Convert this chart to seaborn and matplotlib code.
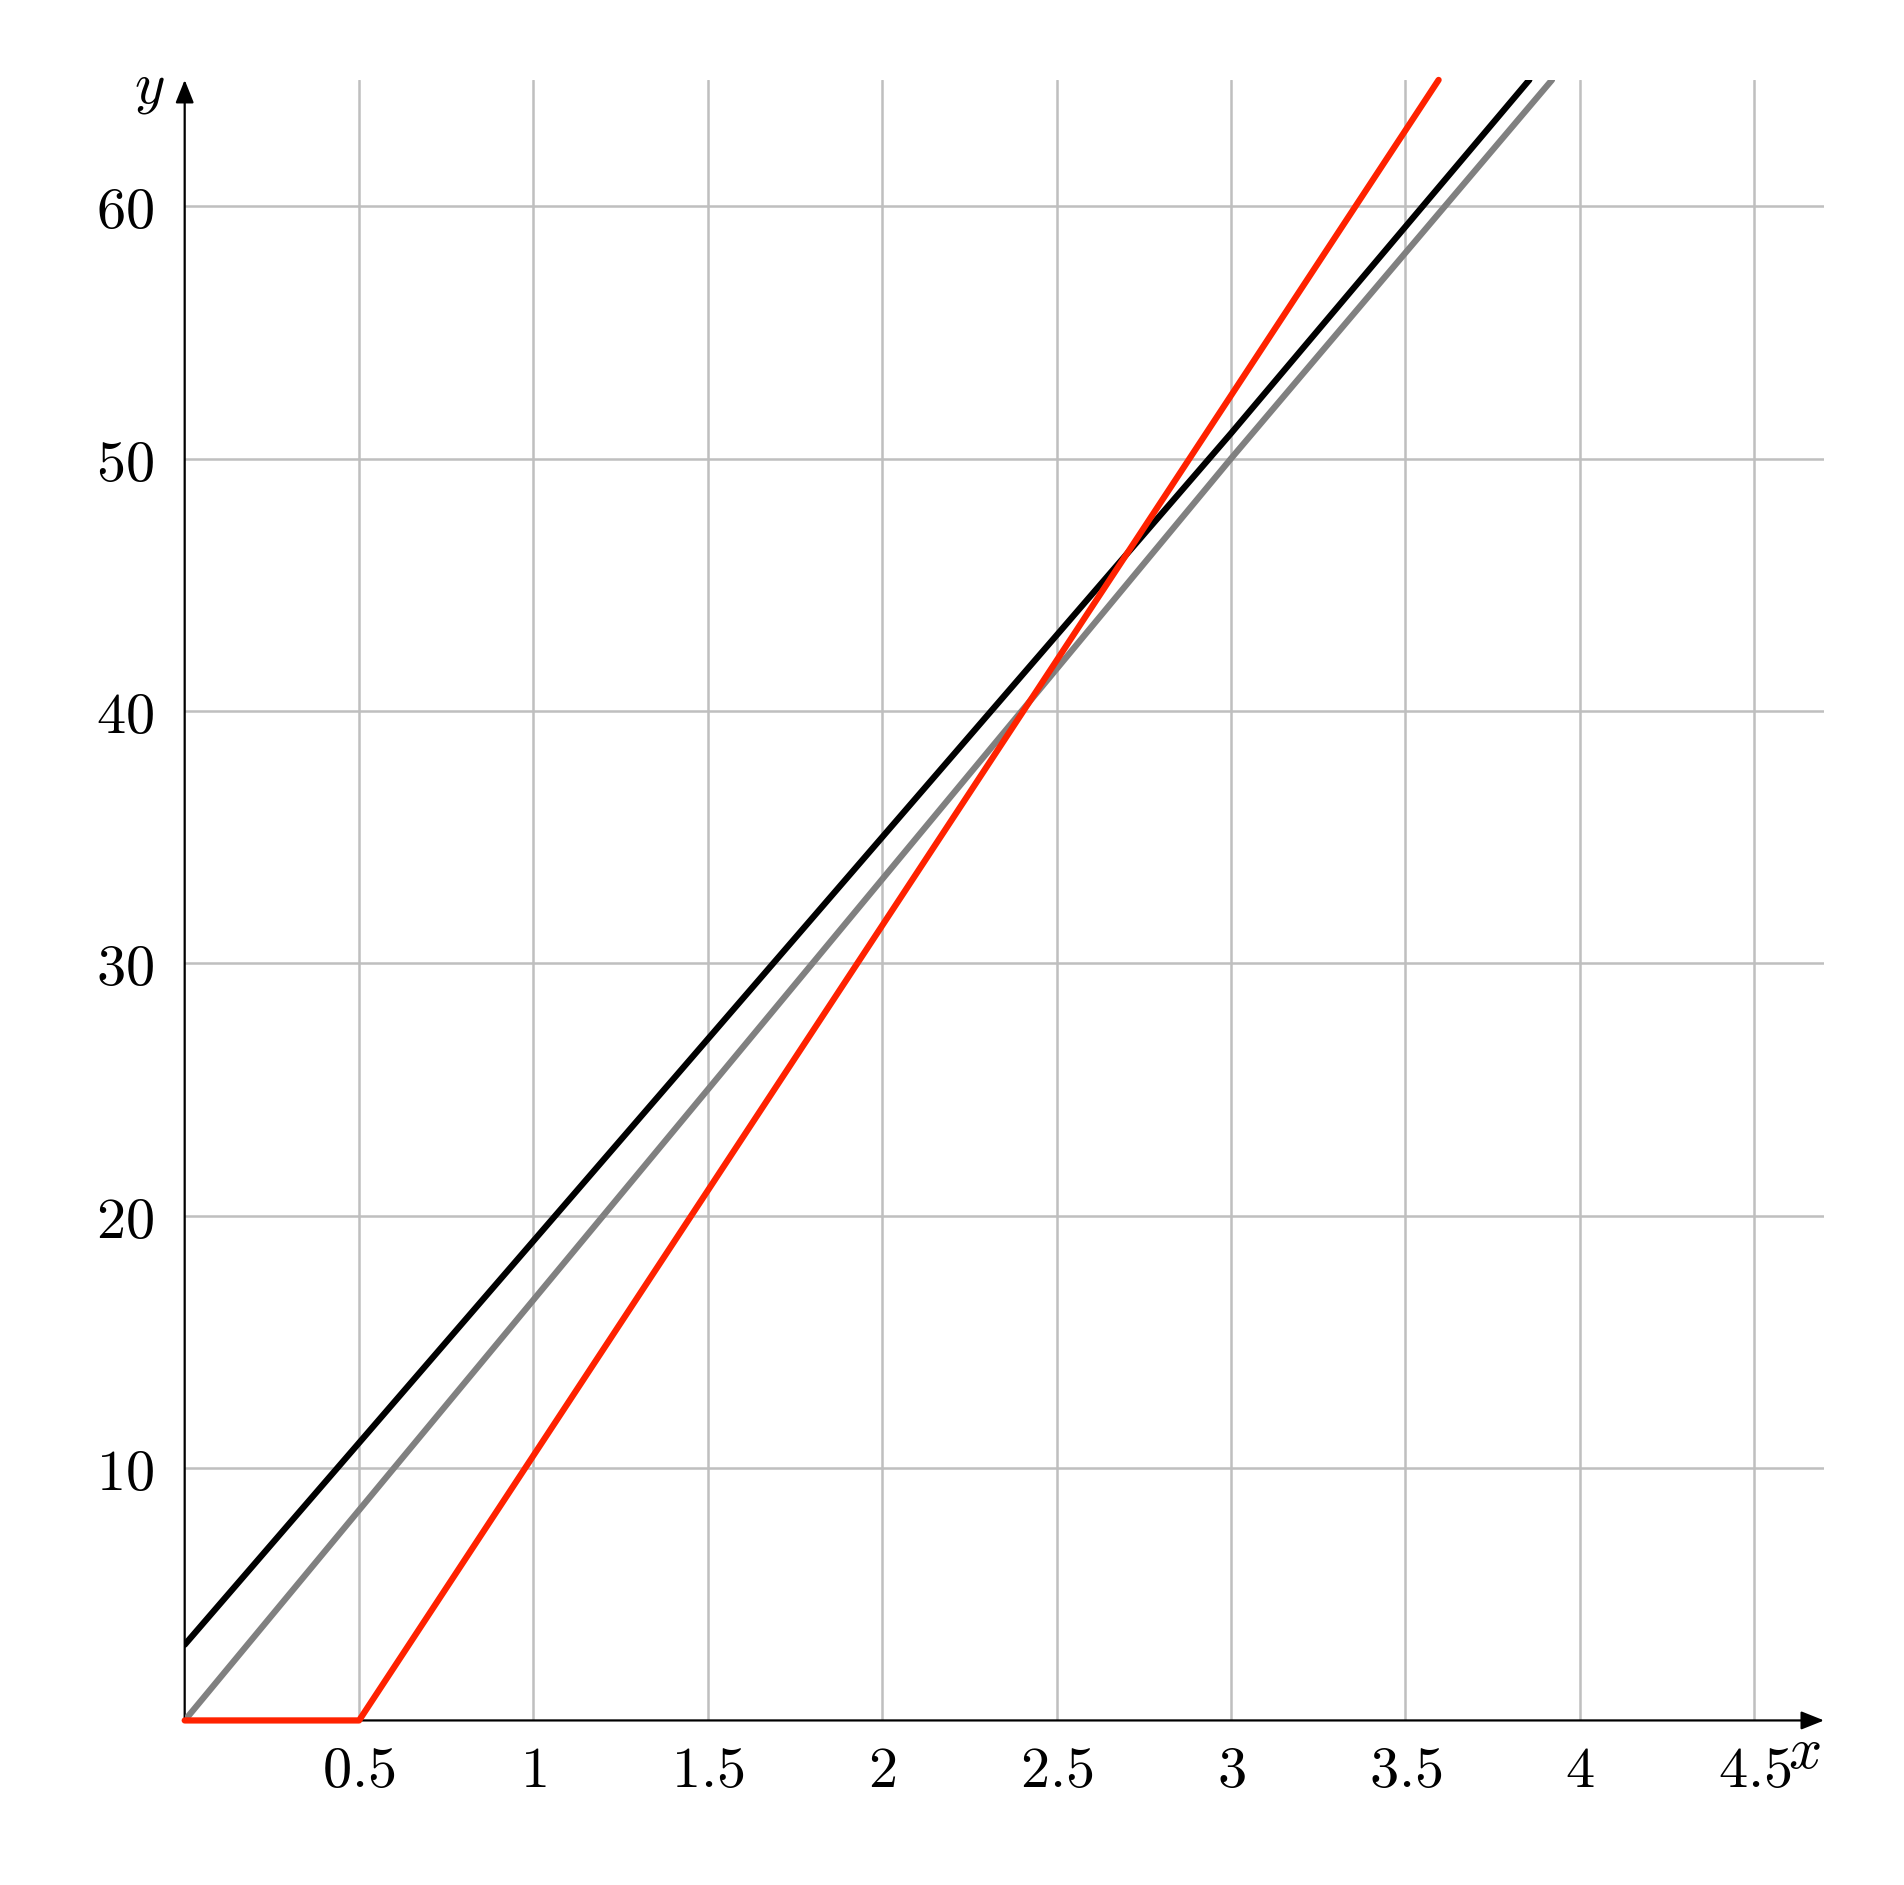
import numpy as np
import pandas as pd
import seaborn as sns
import matplotlib.pyplot as plt

# values
black_x = [0, 1, 2, 3, 3.855]
black_y = [3, 19, 35, 51, 65]
gray_x = [0, 1.5, 3, 3.92]
gray_y = [0, 25, 50, 65]
red_x = [0, 0.5, 1, 2, 3, 3.595]
red_y = [0, 0, 10.5, 31.5, 52.5, 65]

x_ticks = [0.5, 1, 1.5, 2, 2.5, 3, 3.5, 4, 4.5]
x_tick_labels = ["0.5", "1", "1.5", "2", "2.5", "3", "3.5", "4", "4.5"]
y_ticks = [10, 20, 30, 40, 50, 60]
y_tick_labels = ["10", "20", "30", "40", "50", "60"]

sns.set_style("white")
plt.rcParams["mathtext.fontset"] = "cm"
plt.rcParams["font.family"] = ["DejaVu Serif"]

fig = plt.figure(figsize=(19.04, 18.85), dpi=100)
left, right, bottom, top = 0.0970, 0.958, 0.0873, 0.9576
ax = fig.add_axes([left, bottom, right - left, top - bottom])

ax.grid(True, color="#bfbfbf", lw=1.8, zorder=0)
ax.set_axisbelow(True)

sns.lineplot(x=gray_x, y=gray_y, ax=ax, color="#808080", lw=4.5, sort=False,
             zorder=3)
sns.lineplot(x=black_x, y=black_y, ax=ax, color="black", lw=4.5, sort=False,
             zorder=3)
sns.lineplot(x=red_x, y=red_y, ax=ax, color="#ff2200", lw=4.5, sort=False,
             clip_on=False, zorder=4)

ax.set_xlim(0, 4.70)
ax.set_ylim(0, 65)

for s in ax.spines.values():
    s.set_visible(False)

ax.set_xticks(x_ticks)
ax.set_xticklabels(["$%s$" % t for t in x_tick_labels])
ax.set_yticks(y_ticks)
ax.set_yticklabels(["$%s$" % t for t in y_tick_labels])
ax.tick_params(axis="both", direction="inout", length=16, width=1.2,
               color="black", labelcolor="black", labelsize=42)
ax.tick_params(axis="x", pad=8)
ax.tick_params(axis="y", pad=14)

arrow = dict(arrowstyle="-|>,head_length=0.5,head_width=0.2", color="black",
             lw=1.6, mutation_scale=28, shrinkA=0, shrinkB=0)
ax.annotate("", xy=(1, 0), xytext=(0, 0), xycoords="axes fraction",
            arrowprops=arrow, annotation_clip=False, zorder=2)
ax.annotate("", xy=(0, 1), xytext=(0, 0), xycoords="axes fraction",
            arrowprops=arrow, annotation_clip=False, zorder=2)

ax.text(0.998, -0.002, "$x$", transform=ax.transAxes, fontsize=42,
        ha="right", va="top", color="black")
ax.text(-0.012, 1.012, "$y$", transform=ax.transAxes, fontsize=42,
        ha="right", va="top", color="black")
ax.set_xlabel("")
ax.set_ylabel("")

fig.savefig("out.png", dpi=100)
